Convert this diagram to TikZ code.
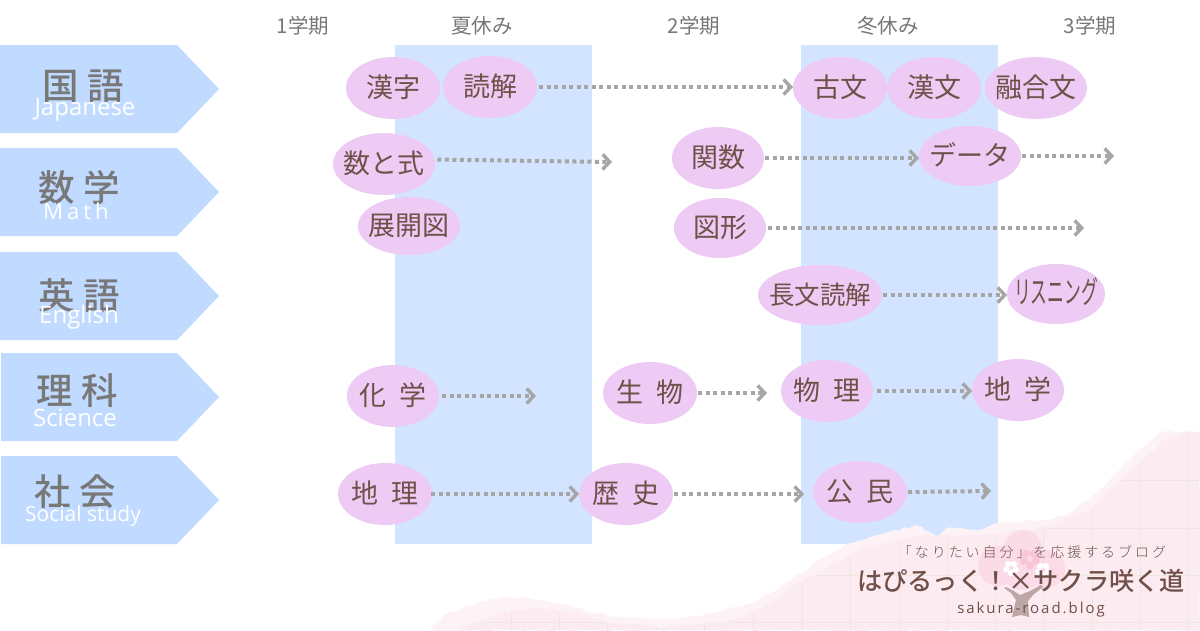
\documentclass[tikz,border=0pt]{standalone}
\usepackage{fontspec}
\usepackage{graphicx}
\usetikzlibrary{arrows.meta,shapes.geometric,decorations.pathmorphing}
\newfontfamily\jpfont[WordSpace=2.2]{Noto Sans CJK JP}
\newfontfamily\jpbig[WordSpace=1.5]{Noto Sans CJK JP Medium}
\newfontfamily\jpwide[LetterSpace=21]{Noto Sans CJK JP Light}
\newfontfamily\jpmain{Noto Sans CJK JP Medium}
\newfontfamily\enfont{Open Sans}
\newfontfamily\enwide[LetterSpace=18]{Open Sans}
\newfontfamily\blogfont[LetterSpace=13]{Open Sans}
\definecolor{bandblue}{HTML}{D2E4FF}
\definecolor{tagblue}{HTML}{C0DBFF}
\definecolor{bubble}{HTML}{EDCBF5}
\definecolor{ink}{HTML}{705048}
\definecolor{heading}{HTML}{787878}
\definecolor{flow}{HTML}{A6A6A6}
\definecolor{hilllight}{HTML}{FDF3F7}
\definecolor{hilldark}{HTML}{FCECF2}
\definecolor{gridline}{HTML}{ECE8DF}
\definecolor{blossom}{HTML}{FADBE7}
\definecolor{blossomdeep}{HTML}{F8C6D8}
\definecolor{trunk}{HTML}{BCA6A6}
% text sits on the centre of a bubble without widening it
\newcommand{\ctext}[1]{\raisebox{-.36em}[0pt][0pt]{\makebox[0pt]{#1}}}
\newcommand{\fs}[1]{\fontsize{#1}{#1}\selectfont}
\tikzset{
  bub/.style={shape=ellipse,fill=bubble,inner sep=0pt,outer sep=0pt,text=ink,
    font=\jpfont\fs{27}},
  flowline/.style={draw=flow,line width=4pt,dash pattern=on 4pt off 3.5pt,
    -{Straight Barb[length=7pt,width=15pt,line width=3.4pt]}},
  termhead/.style={text=heading,font=\jpfont\fs{20.5},inner sep=0pt},
  subjectjp/.style={text=heading,font=\jpbig\fs{36.5},inner sep=0pt},
  subjecten/.style={text=white,font=\enfont\fs{24},inner sep=0pt},
  tag/.style={fill=tagblue},
  band/.style={fill=bandblue},
}
\newcommand{\tagshape}[2]{\fill[tag] (#1,#2) -- (177,#2) -- (219,#2+44) -- (177,#2+88) -- (#1,#2+88) -- cycle;}
\newcommand{\petals}[4]{%
  \foreach \a in {90,162,234,306,18}
    \fill[#4] (#1,#2) +(\a:#3) circle[radius=#3*.62];}
\begin{document}
\begin{tikzpicture}[x=1pt,y=-1pt]
\useasboundingbox (0,0) rectangle (1200,630);
\fill[white] (0,0) rectangle (1200,630);

% school-holiday bands
\fill[band] (395,45) rectangle (592,544);
\fill[band] (801,45) rectangle (998,544);

% hills behind the blog title
\begin{scope}[decoration={random steps,segment length=5pt,amplitude=1.2pt}]
\fill[hilllight,decorate] (430,630) -- (443,616) -- (477,603) -- (503,597) -- (533,599) -- (567,605)
  -- (607,615) -- (667,620) -- (717,612) -- (753,603) -- (777,590) -- (800,573) -- (823,558)
  -- (850,543) -- (870,537) -- (917,525) -- (937,537) -- (947,528) -- (977,530) -- (997,523)
  -- (1047,520) -- (1070,513) -- (1097,493) -- (1120,470) -- (1140,450) -- (1160,432)
  -- (1200,431) -- (1200,630) -- cycle;
\fill[hilldark,decorate] (457,630) -- (500,612) -- (533,608) -- (577,613) -- (613,623) -- (667,627)
  -- (733,620) -- (773,603) -- (797,583) -- (827,568) -- (863,548) -- (917,535) -- (977,535)
  -- (1043,527) -- (1090,510) -- (1120,480) -- (1140,463) -- (1165,440) -- (1188,432)
  -- (1200,432) -- (1200,630) -- cycle;
\end{scope}
\begin{scope}
\clip (462,630) -- (500,614) -- (533,610) -- (577,615) -- (613,625) -- (667,629)
  -- (733,622) -- (773,605) -- (797,585) -- (827,570) -- (863,550) -- (917,537) -- (977,537)
  -- (1043,529) -- (1090,512) -- (1120,482) -- (1140,465) -- (1165,442) -- (1188,434)
  -- (1200,434) -- (1200,630) -- cycle;
\foreach \x in {462,511,559,607,656,704,753,802,850,899,947,995,1043,1092,1140,1188}
  \draw[gridline,line width=.9pt] (\x,425) -- (\x,630);
\foreach \y in {480,528,575,622}
  \draw[gridline,line width=.9pt] (440,\y) -- (1200,\y);
\end{scope}

% cherry tree emblem
\fill[blossom] (1023,549) circle[radius=19];
\fill[blossom] (998,566) circle[radius=20];
\fill[blossom] (1046,569) circle[radius=19];
\fill[blossom] (1022,570) circle[radius=20];
\fill[trunk] (1012,617) -- (1016,600) -- (1011,593) -- (1004,588) -- (1006,587) -- (1014,591) -- (1020,595)
  -- (1030,591) -- (1041,585) -- (1043,587) -- (1033,595) -- (1028,601) -- (1029,617) -- (1021,615) -- cycle;
\petals{1030}{559}{6.5}{blossomdeep}
\petals{1011}{568}{5}{white}
\petals{1043}{570}{5}{white}

% column headings
\node[termhead] (t1) at (303,26) {1学期};
\node[termhead] (t2) at (482,26) {夏休み};
\node[termhead] (t3) at (694,26) {2学期};
\node[termhead] (t4) at (888,26) {冬休み};
\node[termhead] (t5) at (1090,26) {3学期};

% subject tags
\tagshape{0}{45}
\tagshape{0}{148}
\tagshape{0}{252}
\tagshape{1}{353}
\tagshape{1}{456}
\node[subjectjp] (kokugo) at (83,86) {国 語};
\node[subjecten] (jpn) at (85,110) {Japanese};
\node[subjectjp] (sugaku) at (79,188) {数 学};
\node[subjecten,font=\enwide\fs{22}] (math) at (76,211) {Math};
\node[subjectjp] (eigo) at (79,296) {英 語};
\node[subjecten] (eng) at (79,317) {English};
\node[subjectjp] (rika) at (77,391) {理 科};
\node[subjecten] (sci) at (75,418) {Science};
\node[subjectjp] (shakai) at (75,492) {社 会};
\node[subjecten,font=\enfont\fs{21}] (soc) at (83,516) {Social study};

% topic bubbles
\node[bub,minimum width=94pt,minimum height=62pt] (kanji) at (393,88) {\ctext{漢字}};
\node[bub,minimum width=94pt,minimum height=62pt] (dokkai) at (490,87) {\ctext{読解}};
\node[bub,minimum width=94pt,minimum height=62pt] (kobun) at (840,88) {\ctext{古文}};
\node[bub,minimum width=94pt,minimum height=62pt] (kanbun) at (934,88) {\ctext{漢文}};
\node[bub,minimum width=102pt,minimum height=62pt] (yugo) at (1036,88) {\ctext{融合文}};
\node[bub,minimum width=102pt,minimum height=62pt] (sushiki) at (384,164) {\ctext{数と式}};
\node[bub,minimum width=92pt,minimum height=62pt] (kansu) at (718,158) {\ctext{関数}};
\node[bub,minimum width=102pt,minimum height=60pt] (data) at (970,156) {\ctext{データ}};
\node[bub,minimum width=102pt,minimum height=58pt] (tenkai) at (409,226) {\ctext{展開図}};
\node[bub,minimum width=92pt,minimum height=60pt] (zukei) at (720,228) {\ctext{図形}};
\node[bub,minimum width=124pt,minimum height=60pt] (chobun) at (820,295) {\ctext{\fs{25.5}長文読解}};
\node[bub,minimum width=98pt,minimum height=60pt] (listen) at (1056,294) {\ctext{\resizebox{84pt}{26pt}{リスニング}}};
\node[bub,minimum width=92pt,minimum height=62pt] (kagaku) at (393,396) {\ctext{化 学}};
\node[bub,minimum width=94pt,minimum height=62pt] (seibutsu) at (650,393) {\ctext{生 物}};
\node[bub,minimum width=92pt,minimum height=62pt] (butsuri) at (827,391) {\ctext{物 理}};
\node[bub,minimum width=92pt,minimum height=62pt] (chigaku) at (1018,390) {\ctext{地 学}};
\node[bub,minimum width=94pt,minimum height=62pt] (chiri) at (385,494) {\ctext{地 理}};
\node[bub,minimum width=94pt,minimum height=62pt] (rekishi) at (626,494) {\ctext{歴 史}};
\node[bub,minimum width=94pt,minimum height=62pt] (komin) at (860,492) {\ctext{公 民}};

% free ends of the open-ended flows
\coordinate (endsushiki) at (612,162);
\coordinate (enddata) at (1114,156);
\coordinate (endzukei) at (1084,227);
\coordinate (endkagaku) at (536,394);
\coordinate (endkomin) at (991,491);

% flows between topics
\draw[flowline] ([xshift=2pt]dokkai.east) -- (kobun.west |- dokkai.east);
\draw[flowline] ([xshift=3pt]sushiki.5) -- (endsushiki);
\draw[flowline] ([xshift=1pt]kansu.east) -- (data.west |- kansu.east);
\draw[flowline] ([xshift=1pt]data.east) -- (enddata);
\draw[flowline] ([xshift=2pt]zukei.east) -- (zukei.east -| endzukei);
\draw[flowline] ([xshift=1pt]chobun.east) -- (listen.west |- chobun.east);
\draw[flowline] ([xshift=3pt]kagaku.east) -- (kagaku.east -| endkagaku);
\draw[flowline] ([xshift=1pt]seibutsu.east) -- ([xshift=-14pt]butsuri.west |- seibutsu.east);
\draw[flowline] ([xshift=4pt]butsuri.east) -- (chigaku.west |- butsuri.east);
\draw[flowline] ([xshift=-1pt]chiri.east) -- (rekishi.west |- chiri.east);
\draw[flowline] ([xshift=1pt]rekishi.east) -- ([xshift=-9pt]komin.west |- rekishi.east);
\draw[flowline] ([xshift=1pt]komin.east) -- (endkomin);

% blog title
\node[text=ink,font=\jpwide\fs{14},inner sep=0pt] (tagline) at (1032,552) {「なりたい自分」を応援するブログ};
\node[text=ink,font=\jpmain\fs{25.2},inner sep=0pt] (blogtitle) at (1021,581) {はぴるっく！×サクラ咲く道};
\node[text=ink,font=\blogfont\fs{15},inner sep=0pt] (blogurl) at (1031,610) {sakura-road.blog};
\end{tikzpicture}
\end{document}
